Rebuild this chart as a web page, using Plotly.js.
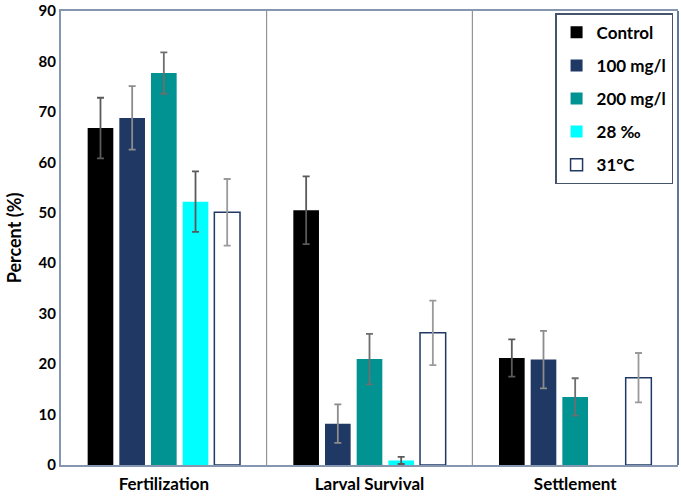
<!DOCTYPE html>
<html>
<head>
<meta charset="utf-8">
<script src="https://cdn.plot.ly/plotly-3.0.1.min.js"></script>
<style>html,body{margin:0;padding:0;background:#fff;}#chart{width:681px;height:497px;}</style>
</head>
<body>
<div id="chart"></div>
<script>
const categories = ["Fertilization", "Larval Survival", "Settlement"];
const seriesNames = ["Control", "100 mg/l", "200 mg/l", "28 ‰", "31°C"];
const control   = [66.8, 50.5, 21.2];
const mg100     = [68.8, 8.2, 20.9];
const mg200     = [77.7, 21.0, 13.5];
const sal28     = [52.2, 0.9, null];
const temp31    = [50.1, 26.2, 17.3];
const controlErr = [6.0, 6.7, 3.7];
const mg100Err   = [6.3, 3.8, 5.7];
const mg200Err   = [4.1, 5.0, 3.7];
const sal28Err   = [6.0, 0.7, null];
const temp31Err  = [6.6, 6.4, 4.9];
const yTicks = [0, 10, 20, 30, 40, 50, 60, 70, 80, 90];

const values = [control, mg100, mg200, sal28, temp31];
const errs = [controlErr, mg100Err, mg200Err, sal28Err, temp31Err];
const fills = ["#000000", "#1f3864", "#009391", "#00ffff", "#ffffff"];
const outlines = ["#000000", "#1f3864", "#009391", "#00ffff", "#1f3864"];
const errColors = ["#5a5a5a", "#8c8c8c", "#6e6e6e", "#5a5a5a", "#9a9a9a"];

const font = "Lato, 'Open Sans', sans-serif";

const traces = seriesNames.map((name, i) => ({
  type: "bar",
  name: name,
  legendgroup: "g" + i,
  x: categories,
  y: values[i],
  marker: { color: fills[i], line: { color: outlines[i], width: i === 4 ? 1.5 : 0 } },
  error_y: { type: "data", array: errs[i], visible: true, color: errColors[i], thickness: 1.8, width: 3.5 }
}));

const layout = {
  width: 681, height: 497,
  margin: { l: 61, r: 3, t: 11, b: 32 },
  font: { family: font, size: 16, color: "#000000", weight: "bold" },
  paper_bgcolor: "#ffffff",
  plot_bgcolor: "#ffffff",
  barmode: "group",
  bargap: 0.23,
  bargroupgap: 0.19,
  showlegend: true,
  legend: {
    x: 0.992, y: 0.995, xanchor: "right", yanchor: "top",
    bgcolor: "#ffffff", bordercolor: "#44546a", borderwidth: 1.5,
    font: { family: font, size: 17, color: "#000000", weight: "bold" },
    traceorder: "grouped", tracegroupgap: 8,
    itemwidth: 30
  },
  xaxis: {
    type: "category",
    showline: true, linecolor: "#8496b0", linewidth: 2, mirror: true,
    showgrid: false, ticks: "", zeroline: false,
    ticklabelstandoff: 3,
    tickfont: { family: font, size: 17, color: "#000000", weight: "bold" },
    fixedrange: true
  },
  yaxis: {
    range: [0, 90],
    tickvals: yTicks,
    ticklabeloverflow: "allow",
    showline: true, linecolor: "#8496b0", linewidth: 2,
    showgrid: false, zeroline: false, ticks: "",
    tickfont: { family: font, size: 15, color: "#000000", weight: "bold" },
    title: { text: "Percent (%)", font: { family: font, size: 18, color: "#000000", weight: "bold" }, standoff: 12 },
    fixedrange: true
  },
  shapes: [
    { type: "line", xref: "x", yref: "paper", x0: 0.5, x1: 0.5, y0: 0, y1: 1, line: { color: "#7f7f7f", width: 1 } },
    { type: "line", xref: "x", yref: "paper", x0: 1.5, x1: 1.5, y0: 0, y1: 1, line: { color: "#7f7f7f", width: 1 } },
    { type: "line", xref: "paper", yref: "paper", x0: 1, x1: 1, y0: 0, y1: 1, line: { color: "#2f4a7a", width: 1.5 } }
  ]
};

Plotly.newPlot("chart", traces, layout, { displayModeBar: false, staticPlot: true });
</script>
</body>
</html>
